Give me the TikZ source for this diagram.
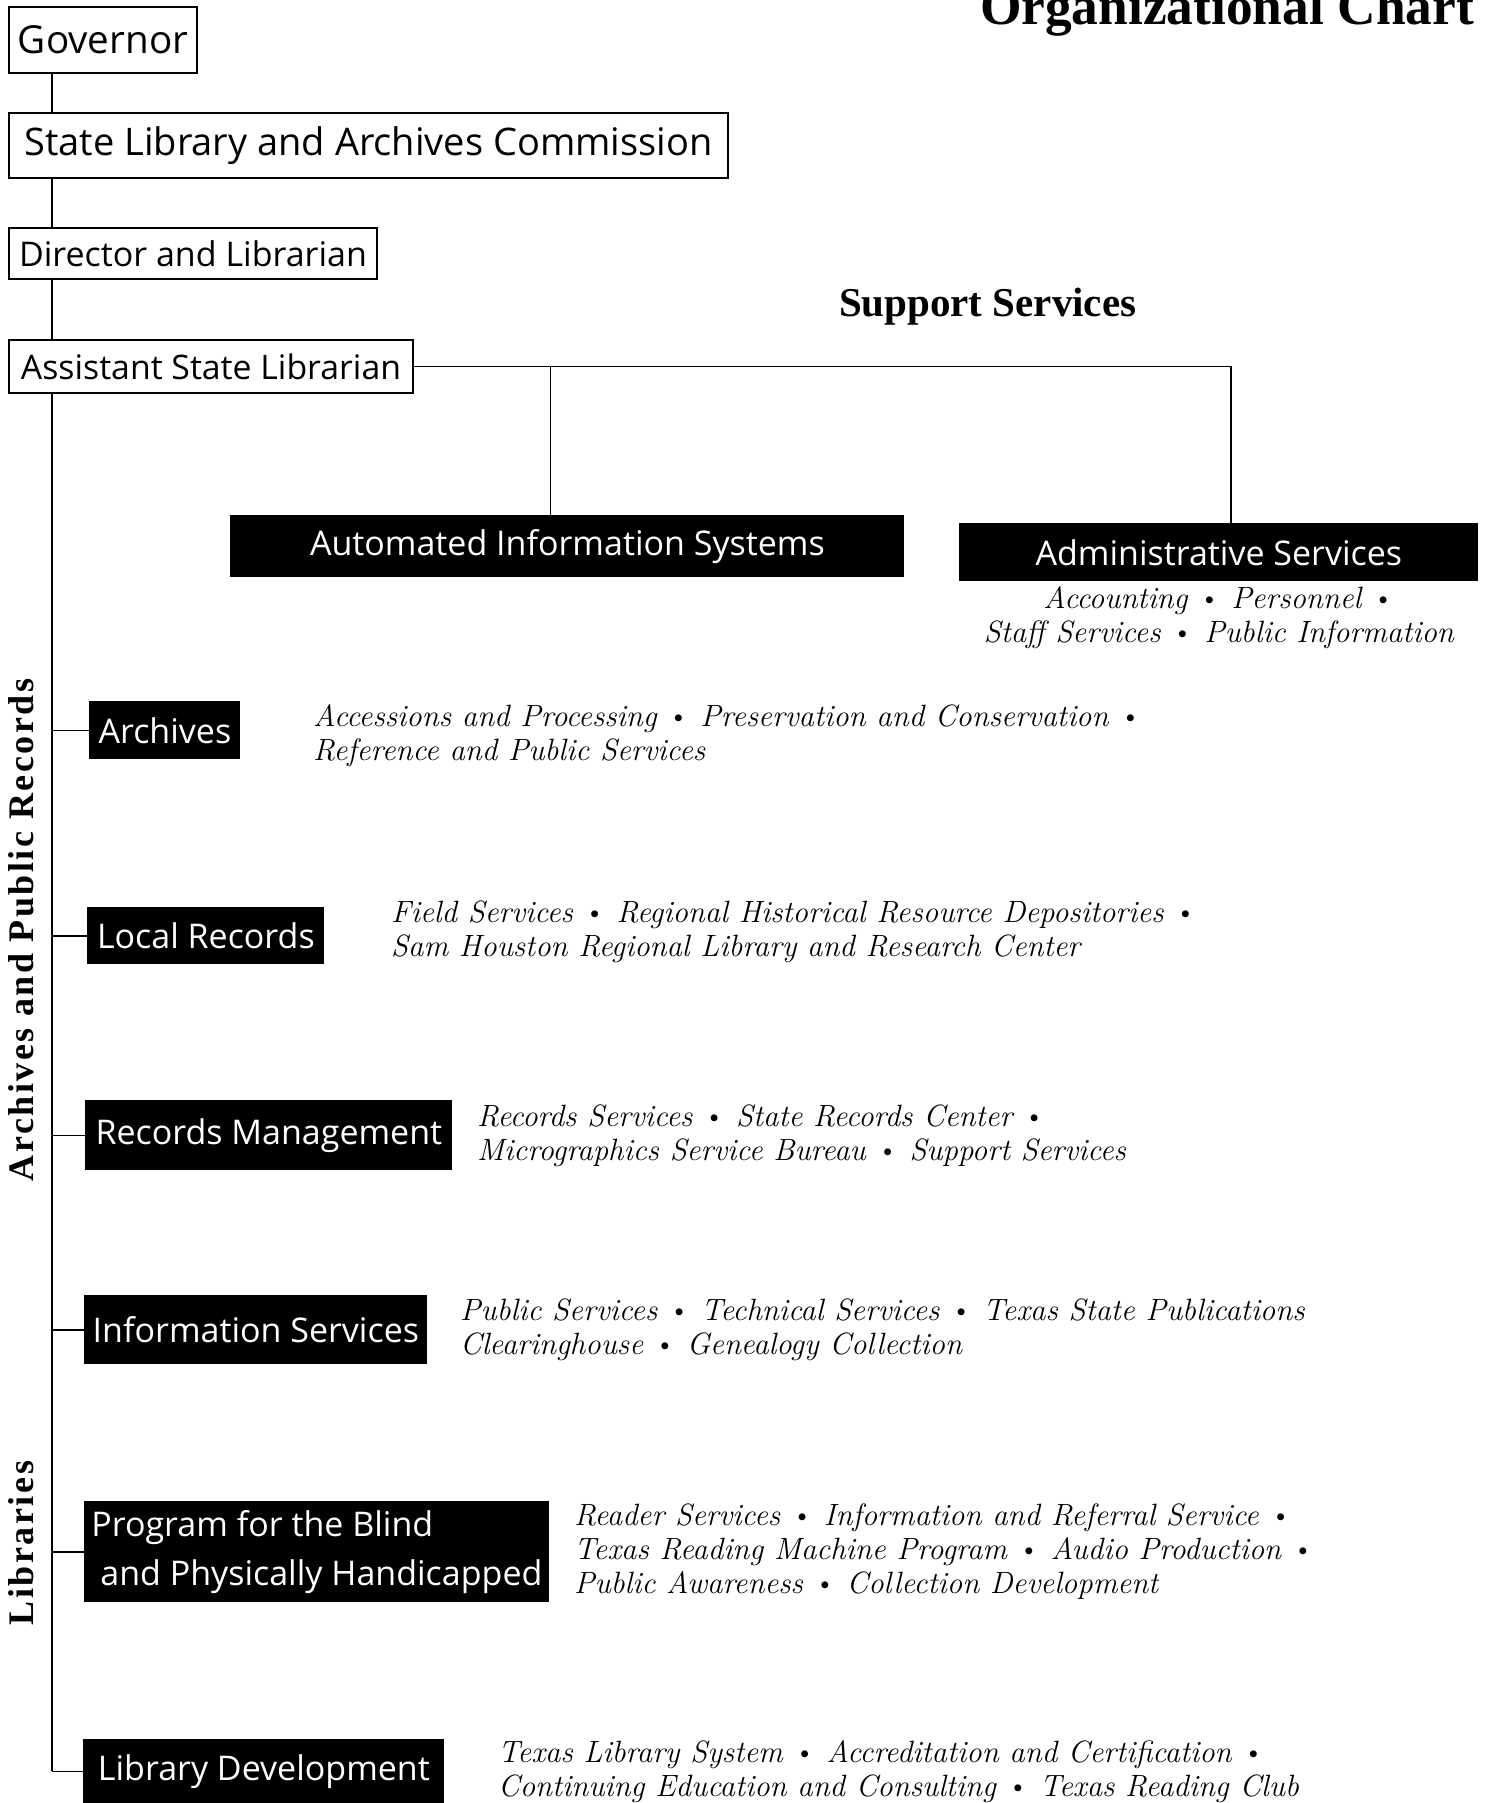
\documentclass[tikz,border=0pt]{standalone}
\usepackage{fontspec}
\usetikzlibrary{positioning}
\newfontfamily\boxfont{Open Sans}
\newfontfamily\headfont{Liberation Serif}
\newfontfamily\groupfont[LetterSpace=7]{Liberation Serif}
\newcommand{\bul}{{\upshape\textbullet}}

\begin{document}
\begin{tikzpicture}[
    x=0.5pt, y=-0.5pt,
    topbox/.style={draw, line width=1pt, anchor=north west,
                   inner xsep=4.5pt, inner ysep=0pt,
                   font=\boxfont\fontsize{#1}{22}\selectfont},
    topbox/.default=19,
    unit/.style={fill=black, text=white, anchor=north west, align=left,
                 inner sep=0pt, font=\boxfont\fontsize{17}{24.5}\selectfont},
    duties/.style={align=left, inner sep=0pt,
                   font=\fontsize{15.4}{17}\selectfont\itshape},
    side/.style={rotate=90, font=\groupfont\bfseries\fontsize{18}{20}\selectfont},
    link/.style={line width=0.7pt},
  ]
    \useasboundingbox (0,0) rectangle (1488,1803);
    \coordinate (spine) at (52,0);

    % Headings
    \node[anchor=base east, font=\headfont\bfseries\fontsize{26.7}{30}\selectfont]
      (title) at (1481,25) {Organizational Chart};
    \node[anchor=base west, font=\headfont\bfseries\fontsize{20.5}{24}\selectfont]
      (support) at (832,316) {Support Services};

    % Chain of command, outlined boxes
    \node[topbox=19.3, minimum width=92.5pt, minimum height=33pt] (gov) at (8,6) {Governor};
    \node[topbox=19, minimum width=359.5pt, minimum height=32.5pt] (slac) at (8,112)
      {State Library and Archives Commission};
    \node[topbox=17, minimum width=184pt, minimum height=25.5pt] (dir) at (8,227)
      {Director and Librarian};
    \node[topbox=16.9, minimum width=202pt, minimum height=26.5pt] (asl) at (8,339)
      {Assistant State Librarian};

    % Support services
    \node[unit, align=center, minimum width=337pt, minimum height=31pt] (ais) at (230,515)
      {Automated Information Systems};
    \node[unit, align=center, minimum width=259.5pt, minimum height=29pt] (admin) at (959,523)
      {Administrative Services};
    \node[duties, align=center, below=2pt of admin] (admin-d)
      {Accounting \bul{} Personnel \bul\\Staff Services \bul{} Public Information};

    % Divisions along the spine
    \node[unit, minimum width=75.5pt, minimum height=29pt] (arch) at (89,701) {Archives};
    \node[unit, minimum width=118.5pt, minimum height=28.5pt] (loc) at (87,907) {Local Records};
    \node[unit, minimum width=183.5pt, minimum height=35pt] (rm) at (85,1100) {Records Management};
    \node[unit, minimum width=171.5pt, minimum height=34.5pt] (is) at (84,1295) {Information Services};
    \node[unit, minimum width=232.5pt, minimum height=50.5pt] (blind) at (84,1501)
      {Program for the Blind\\\hspace*{4.5pt}and Physically Handicapped};
    \node[unit, minimum width=180.5pt, minimum height=32pt] (ld) at (83,1739) {Library Development};

    \node[duties, anchor=west, right=36pt of arch, yshift=-2.5pt] (arch-d)
      {Accessions and Processing \bul{} Preservation and Conservation \bul\\
       Reference and Public Services};
    \node[duties, anchor=west, right=33pt of loc, yshift=2pt] (loc-d)
      {Field Services \bul{} Regional Historical Resource Depositories \bul\\
       Sam Houston Regional Library and Research Center};
    \node[duties, anchor=west, right=12pt of rm] (rm-d)
      {Records Services \bul{} State Records Center \bul\\
       Micrographics Service Bureau \bul{} Support Services};
    \node[duties, anchor=west, right=16pt of is] (is-d)
      {Public Services \bul{} Technical Services \bul{} Texas State Publications\\
       Clearinghouse \bul{} Genealogy Collection};
    \node[duties, anchor=west, right=12pt of blind] (blind-d)
      {Reader Services \bul{} Information and Referral Service \bul\\
       Texas Reading Machine Program \bul{} Audio Production \bul\\
       Public Awareness \bul{} Collection Development};
    \node[duties, anchor=west, right=26.5pt of ld] (ld-d)
      {Texas Library System \bul{} Accreditation and Certification \bul\\
       Continuing Education and Consulting \bul{} Texas Reading Club};

    % Group labels
    \node[side] (arch-grp) at (21,930) {Archives and Public Records};
    \node[side] (lib-grp) at (21,1543) {Libraries};

    % Connectors
    \draw[link] (gov.south -| spine) -- (slac.north -| spine);
    \draw[link] (slac.south -| spine) -- (dir.north -| spine);
    \draw[link] (dir.south -| spine) -- (asl.north -| spine);
    \draw[link] (asl.south -| spine) -- (spine |- ld.west);
    \draw[link] (asl.east) -| ([xshift=6pt]admin.north);
    \draw[link] ([xshift=-8.5pt]ais.north) -- ([xshift=-8.5pt]ais.north |- asl.east);
    \foreach \u in {arch, loc, rm, is, blind, ld}
      \draw[link] (spine |- \u.west) -- (\u.west);
  \end{tikzpicture}
\end{document}
